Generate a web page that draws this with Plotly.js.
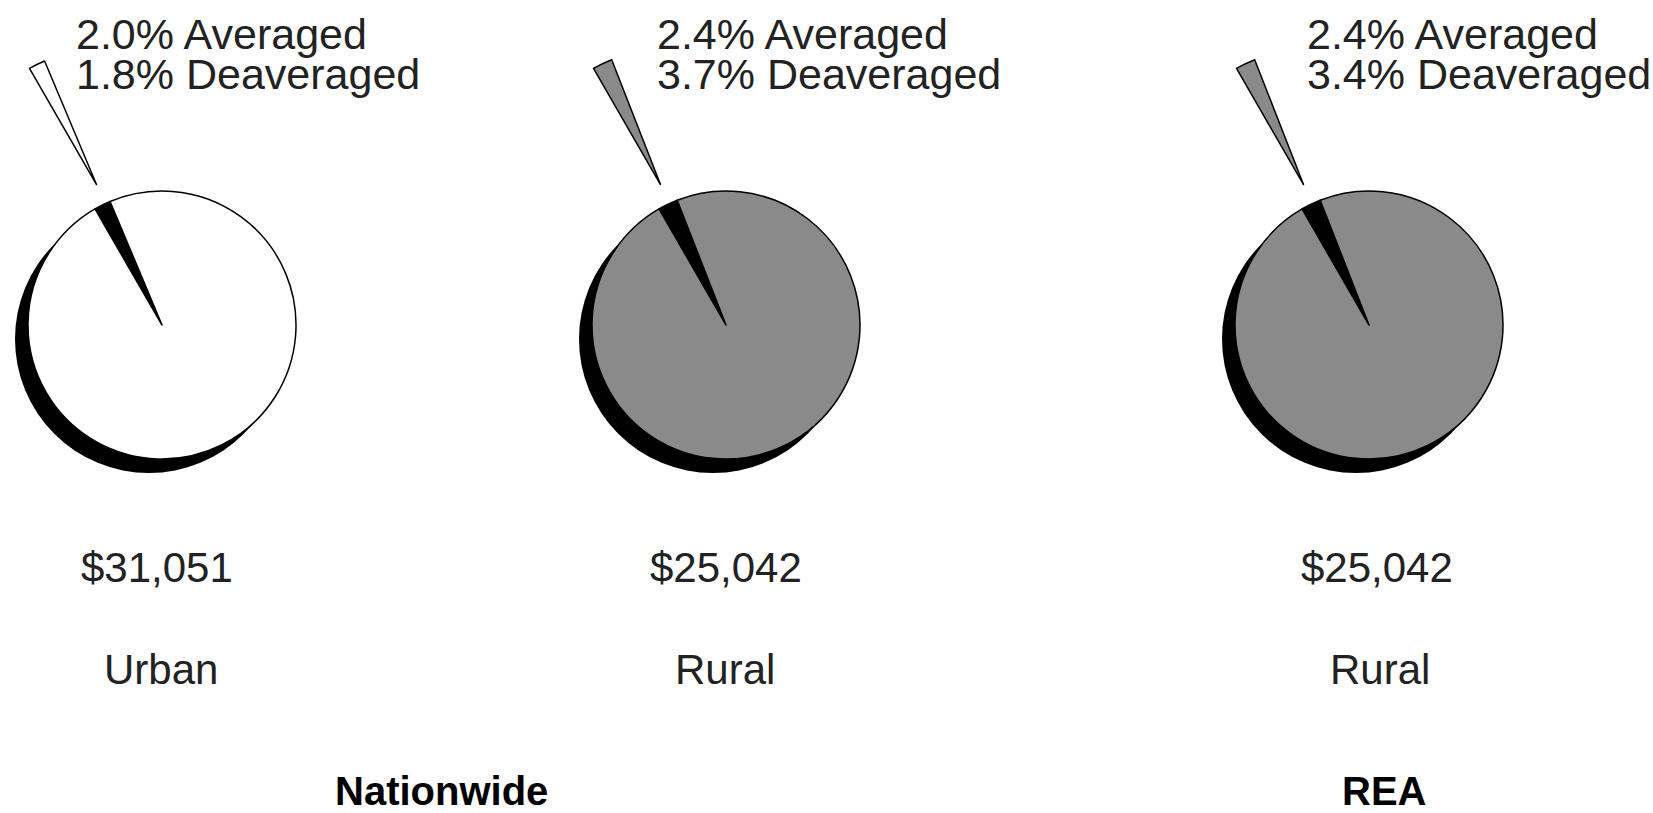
<!DOCTYPE html>
<html>
<head>
<meta charset="utf-8">
<script src="https://cdn.plot.ly/plotly-3.0.1.min.js"></script>
<style>
  html, body { margin: 0; padding: 0; background: #ffffff; overflow: hidden; width: 1653px; height: 813px; }
  #chart { position: absolute; top: 0; }
</style>
</head>
<body>
<div id="chart"></div>
<script>
// ---- data ----
const regions     = ['Urban', 'Rural', 'Rural'];
const incomes     = ['$31,051', '$25,042', '$25,042'];
const averaged    = [2.0, 2.4, 2.4];
const deaveraged  = [1.8, 3.7, 3.4];
const groupTitles = ['Nationwide', 'REA'];

// ---- layout / style constants ----
const fills     = ['#ffffff', '#8a8a8a', '#8a8a8a'];
const centersX  = [162, 726, 1369];
const centerY   = 325;
const R         = 134;
const shadowDX  = -13, shadowDY = 14;
const pullPx    = 155;
const pullAngle = -25;
const ROT       = -30;
const labelX    = [74, 655, 1305];
const incomeX   = [157, 726, 1377];
const regionX   = [161, 725, 1380];
const groupX    = [441, 1384];
const OFF = 80, W = 1653 + OFF, H = 813;

const chart = document.getElementById('chart');
chart.style.left = (-OFF) + 'px';

function dom(cx, cy, r) {
  return { x: [(cx + OFF - r) / W, (cx + OFF + r) / W],
           y: [1 - (cy + r) / H, 1 - (cy - r) / H] };
}
const px = x => (x + OFF) / W;
const py = y => 1 - y / H;

const traces = [];
const annotations = [];
const FONT = 'Liberation Sans, Arial, sans-serif';
const TXT = '#222222';
const big = s => '<span style="font-size:43px">' + s + '</span>';

regions.forEach((reg, i) => {
  const cx = centersX[i];
  const vals = [averaged[i], 100 - averaged[i]];
  // shadow
  traces.push({
    type: 'pie', values: [1], labels: ['shadow'], sort: false,
    marker: { colors: ['#000000'], line: { width: 0 } },
    textinfo: 'none', hoverinfo: 'skip', showlegend: false,
    domain: dom(cx + shadowDX, centerY + shadowDY, R)
  });
  // main pie with the gap wedge
  traces.push({
    type: 'pie', values: vals, labels: ['Averaged', reg], sort: false,
    direction: 'clockwise', rotation: ROT,
    marker: { colors: ['#000000', fills[i]], line: { color: '#000000', width: 1.5 } },
    textinfo: 'none', hoverinfo: 'skip', showlegend: false,
    domain: dom(cx, centerY, R)
  });
  // exploded sliver
  const a = pullAngle * Math.PI / 180;
  const sx = cx + pullPx * Math.sin(a);
  const sy = centerY - pullPx * Math.cos(a);
  traces.push({
    type: 'pie', values: vals, labels: ['Deaveraged', 'rest'], sort: false,
    direction: 'clockwise', rotation: ROT,
    marker: { colors: [fills[i], 'rgba(0,0,0,0)'],
              line: { color: ['#000000', 'rgba(0,0,0,0)'], width: [1.5, 0] } },
    textinfo: 'none', hoverinfo: 'skip', showlegend: false,
    domain: dom(sx, sy, R)
  });

  // two-line label as one text (tight line spacing like the reference)
  annotations.push({
    xref: 'paper', yref: 'paper', x: px(labelX[i]), y: py(54), xanchor: 'left', yanchor: 'middle',
    align: 'left',
    text: big(averaged[i].toFixed(1) + '% Averaged') + '<br>' + big(deaveraged[i].toFixed(1) + '% Deaveraged'),
    showarrow: false,
    font: { family: FONT, size: 31, color: TXT }
  });
  annotations.push({
    xref: 'paper', yref: 'paper', x: px(incomeX[i]), y: py(567), xanchor: 'center', yanchor: 'middle',
    text: incomes[i], showarrow: false,
    font: { family: FONT, size: 42, color: TXT }
  });
  annotations.push({
    xref: 'paper', yref: 'paper', x: px(regionX[i]), y: py(669), xanchor: 'center', yanchor: 'middle',
    text: reg, showarrow: false,
    font: { family: FONT, size: 42, color: TXT }
  });
});

groupTitles.forEach((t, j) => {
  annotations.push({
    xref: 'paper', yref: 'paper', x: px(groupX[j]), y: py(791), xanchor: 'center', yanchor: 'middle',
    text: '<b>' + t + '</b>', showarrow: false,
    font: { family: FONT, size: 40, color: '#000000' }
  });
});

const layout = {
  width: W, height: H,
  margin: { l: 0, r: 0, t: 0, b: 0 },
  paper_bgcolor: '#ffffff', plot_bgcolor: '#ffffff',
  showlegend: false,
  annotations: annotations
};

Plotly.newPlot(chart, traces, layout, { displayModeBar: false, staticPlot: true });
</script>
</body>
</html>
